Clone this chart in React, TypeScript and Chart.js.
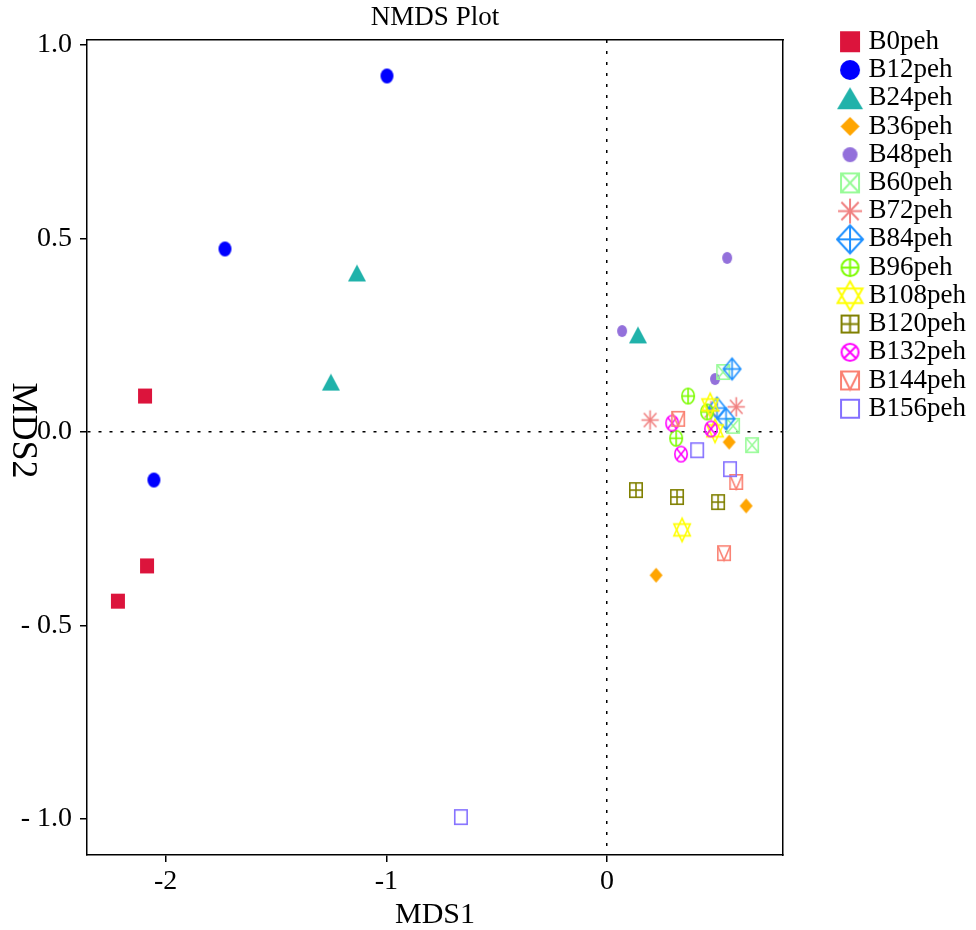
import React, { useEffect, useRef } from 'react';
import { Chart, registerables } from 'chart.js';

Chart.register(...registerables);

// ---------------- data ----------------
const SERIES_NAMES = ['B0peh', 'B12peh', 'B24peh', 'B36peh', 'B48peh', 'B60peh', 'B72peh', 'B84peh', 'B96peh', 'B108peh', 'B120peh', 'B132peh', 'B144peh', 'B156peh'];

const B0peh_MDS1 = [-2.093, -2.084, -2.216];
const B0peh_MDS2 = [0.093, -0.346, -0.437];
const B12peh_MDS1 = [-0.997, -1.731, -2.053];
const B12peh_MDS2 = [0.92, 0.473, -0.124];
const B24peh_MDS1 = [-1.133, -1.251, 0.14];
const B24peh_MDS2 = [0.411, 0.129, 0.251];
const B36peh_MDS1 = [0.222, 0.63, 0.553];
const B36peh_MDS2 = [-0.37, -0.191, -0.026];
const B48peh_MDS1 = [0.544, 0.068, 0.489];
const B48peh_MDS2 = [0.45, 0.261, 0.137];
const B60peh_MDS1 = [0.526, 0.571, 0.657];
const B60peh_MDS2 = [0.155, 0.016, -0.034];
const B72peh_MDS1 = [0.195, 0.585, 0.471];
const B72peh_MDS2 = [0.031, 0.065, 0.055];
const B84peh_MDS1 = [0.566, 0.498, 0.539];
const B84peh_MDS2 = [0.163, 0.062, 0.034];
const B96peh_MDS1 = [0.367, 0.313, 0.453];
const B96peh_MDS2 = [0.093, -0.016, 0.052];
const B108peh_MDS1 = [0.34, 0.467, 0.489];
const B108peh_MDS2 = [-0.253, 0.07, 0.003];
const B120peh_MDS1 = [0.131, 0.317, 0.503];
const B120peh_MDS2 = [-0.15, -0.168, -0.181];
const B132peh_MDS1 = [0.295, 0.335, 0.471];
const B132peh_MDS2 = [0.023, -0.057, 0.008];
const B144peh_MDS1 = [0.322, 0.585, 0.53];
const B144peh_MDS2 = [0.034, -0.129, -0.313];
const B156peh_MDS1 = [-0.662, 0.408, 0.557];
const B156peh_MDS2 = [-0.995, -0.047, -0.096];

const MDS1_VALUES = [B0peh_MDS1, B12peh_MDS1, B24peh_MDS1, B36peh_MDS1, B48peh_MDS1, B60peh_MDS1, B72peh_MDS1, B84peh_MDS1, B96peh_MDS1, B108peh_MDS1, B120peh_MDS1, B132peh_MDS1, B144peh_MDS1, B156peh_MDS1];
const MDS2_VALUES = [B0peh_MDS2, B12peh_MDS2, B24peh_MDS2, B36peh_MDS2, B48peh_MDS2, B60peh_MDS2, B72peh_MDS2, B84peh_MDS2, B96peh_MDS2, B108peh_MDS2, B120peh_MDS2, B132peh_MDS2, B144peh_MDS2, B156peh_MDS2];

const X_TICKS = [-2, -1, 0];
const X_TICK_LABELS = ['-2', '-1', '0'];
const Y_TICKS = [-1, -0.5, 0, 0.5, 1];
const Y_TICK_LABELS = ['- 1.0', '- 0.5', '0.0', '0.5', '1.0'];

const X_MIN = -2.356;
const X_MAX = 0.797;
const Y_MIN = -1.093;
const Y_MAX = 1.013;

const CHART_TITLE = 'NMDS Plot';
const X_AXIS_TITLE = 'MDS1';
const Y_AXIS_TITLE = 'MDS2';

// ---------------- styles ----------------
const MARKER_STYLES = [
  { kind: 'squareFilled', color: '#DC143C', plot: [14, 15], legend: [20, 21] },
  { kind: 'circleFilled', color: '#0000FF', plot: [13, 15], legend: [20, 20] },
  { kind: 'triangleFilled', color: '#20B2AA', plot: [18, 17], legend: [26, 22] },
  { kind: 'diamondFilled', color: '#FFA500', plot: [13, 15], legend: [19, 19] },
  { kind: 'circleFilled', color: '#9370DB', plot: [10, 12], legend: [15, 15] },
  { kind: 'squareX', color: '#98FB98', plot: [14, 16], legend: [20, 21] },
  { kind: 'asterisk', color: '#F08080', plot: [19, 21], legend: [26, 27] },
  { kind: 'diamondPlus', color: '#1E90FF', plot: [19, 23], legend: [28, 30] },
  { kind: 'circlePlus', color: '#7CFC00', plot: [14, 17], legend: [19, 19] },
  { kind: 'hexagram', color: '#FFFF00', plot: [18, 25], legend: [27, 31] },
  { kind: 'squarePlus', color: '#808000', plot: [14, 16], legend: [19, 19] },
  { kind: 'circleX', color: '#FF00FF', plot: [14, 17], legend: [19, 19] },
  { kind: 'squareV', color: '#FA8072', plot: [14, 16], legend: [20, 20] },
  { kind: 'squareOpen', color: '#8470FF', plot: [14, 16], legend: [20, 20] },
];

const SERIF = "'Liberation Serif', 'Times New Roman', serif";
const CANVAS_W = 976;
const CANVAS_H = 930;
const PLOT_LEFT = 87;
const PLOT_RIGHT = 783;
const X_AXIS_HEIGHT = 75;
const LEGEND_BOX_W = 18;
const LEGEND_MARK_SHIFT = 4;

function makeMarker(kind: string, color: string, w: number, h: number, lw: number, shift: number): HTMLCanvasElement {
  const pad = 2;
  const c = document.createElement('canvas');
  c.width = Math.ceil(w + pad * 2 + Math.abs(shift) * 2);
  c.height = Math.ceil(h + pad * 2);
  const g = c.getContext('2d') as CanvasRenderingContext2D;
  const cx = c.width / 2 + shift;
  const cy = c.height / 2;
  const fx = w / 2;
  const fy = h / 2;
  const rx = (w - lw) / 2;
  const ry = (h - lw) / 2;
  g.strokeStyle = color;
  g.fillStyle = color;
  g.lineWidth = lw;
  const line = (x1: number, y1: number, x2: number, y2: number) => {
    g.beginPath();
    g.moveTo(x1, y1);
    g.lineTo(x2, y2);
    g.stroke();
  };
  const rect = () => g.strokeRect(cx - rx, cy - ry, rx * 2, ry * 2);
  const ell = () => {
    g.beginPath();
    g.ellipse(cx, cy, rx, ry, 0, 0, Math.PI * 2);
    g.stroke();
  };
  const plus = (ax: number, ay: number) => {
    line(cx - ax, cy, cx + ax, cy);
    line(cx, cy - ay, cx, cy + ay);
  };
  switch (kind) {
    case 'squareFilled':
      g.fillRect(cx - fx, cy - fy, w, h);
      break;
    case 'circleFilled':
      g.beginPath();
      g.ellipse(cx, cy, fx, fy, 0, 0, Math.PI * 2);
      g.fill();
      break;
    case 'triangleFilled':
      g.beginPath();
      g.moveTo(cx, cy - fy);
      g.lineTo(cx + fx, cy + fy);
      g.lineTo(cx - fx, cy + fy);
      g.closePath();
      g.fill();
      break;
    case 'diamondFilled':
      g.beginPath();
      g.moveTo(cx, cy - fy);
      g.lineTo(cx + fx, cy);
      g.lineTo(cx, cy + fy);
      g.lineTo(cx - fx, cy);
      g.closePath();
      g.fill();
      break;
    case 'squareX':
      rect();
      line(cx - rx, cy - ry, cx + rx, cy + ry);
      line(cx + rx, cy - ry, cx - rx, cy + ry);
      break;
    case 'asterisk':
      plus(rx, ry);
      line(cx - rx * 0.72, cy - ry * 0.72, cx + rx * 0.72, cy + ry * 0.72);
      line(cx + rx * 0.72, cy - ry * 0.72, cx - rx * 0.72, cy + ry * 0.72);
      break;
    case 'diamondPlus':
      g.beginPath();
      g.moveTo(cx, cy - ry);
      g.lineTo(cx + rx, cy);
      g.lineTo(cx, cy + ry);
      g.lineTo(cx - rx, cy);
      g.closePath();
      g.stroke();
      plus(rx, ry);
      break;
    case 'circlePlus':
      ell();
      plus(rx, ry);
      break;
    case 'hexagram':
      g.beginPath();
      g.moveTo(cx, cy - ry);
      g.lineTo(cx + rx, cy + ry * 0.5);
      g.lineTo(cx - rx, cy + ry * 0.5);
      g.closePath();
      g.stroke();
      g.beginPath();
      g.moveTo(cx, cy + ry);
      g.lineTo(cx + rx, cy - ry * 0.5);
      g.lineTo(cx - rx, cy - ry * 0.5);
      g.closePath();
      g.stroke();
      break;
    case 'squarePlus':
      rect();
      plus(rx, ry);
      break;
    case 'circleX':
      ell();
      line(cx - rx * 0.707, cy - ry * 0.707, cx + rx * 0.707, cy + ry * 0.707);
      line(cx + rx * 0.707, cy - ry * 0.707, cx - rx * 0.707, cy + ry * 0.707);
      break;
    case 'squareV':
      rect();
      g.beginPath();
      g.moveTo(cx - rx, cy - ry);
      g.lineTo(cx, cy + ry);
      g.lineTo(cx + rx, cy - ry);
      g.stroke();
      break;
    case 'squareOpen':
    default:
      rect();
      break;
  }
  return c;
}

const zeroLineColor = (c: any) => (c.tick && c.tick.value === 0 ? '#000000' : 'rgba(0,0,0,0)');

const yTitlePlugin = {
  id: 'rotatedYTitle',
  afterDraw(chart: any) {
    const { ctx, chartArea } = chart;
    ctx.save();
    ctx.translate(chartArea.left - 64.5, (chartArea.top + chartArea.bottom) / 2 - 17);
    ctx.rotate(Math.PI / 2);
    ctx.font = `36px ${SERIF}`;
    ctx.fillStyle = '#000000';
    ctx.textAlign = 'center';
    ctx.textBaseline = 'middle';
    ctx.fillText(Y_AXIS_TITLE, 0, 0);
    ctx.restore();
  },
};

export default function App() {
  const ref = useRef<HTMLCanvasElement | null>(null);

  useEffect(() => {
    if (!ref.current) return;
    const plotMarkers = MARKER_STYLES.map((s) => makeMarker(s.kind, s.color, s.plot[0], s.plot[1], 1.6, 0));
    const legendMarkers = MARKER_STYLES.map((s) => makeMarker(s.kind, s.color, s.legend[0], s.legend[1], 2, LEGEND_MARK_SHIFT));

    const datasets = SERIES_NAMES.map((name, i) => ({
      label: name,
      data: MDS1_VALUES[i].map((x, j) => ({ x, y: MDS2_VALUES[i][j] })),
      pointStyle: plotMarkers[i],
      pointRadius: 9,
      pointHoverRadius: 9,
      backgroundColor: MARKER_STYLES[i].color,
      borderColor: MARKER_STYLES[i].color,
      order: -i,
    }));

    const chart = new Chart(ref.current, {
      type: 'scatter',
      data: { datasets },
      plugins: [yTitlePlugin],
      options: {
        animation: false,
        responsive: false,
        devicePixelRatio: 1,
        events: [],
        layout: { padding: 0 },
        font: { family: SERIF },
        color: '#000000',
        plugins: {
          tooltip: { enabled: false },
          title: {
            display: true,
            text: CHART_TITLE,
            fullSize: false,
            color: '#000000',
            font: { family: SERIF, size: 27, weight: 'normal', lineHeight: 1 },
            padding: { top: 4, bottom: 9 },
          },
          legend: {
            display: true,
            position: 'right',
            align: 'start',
            title: { display: true, text: '', font: { size: 20, lineHeight: 1 }, padding: { top: 7, bottom: 0 } },
            labels: {
              usePointStyle: true,
              pointStyleWidth: LEGEND_BOX_W,
              padding: 1.23,
              color: '#000000',
              font: { family: SERIF, size: 27 },
              generateLabels: () =>
                SERIES_NAMES.map((name, i) => ({
                  text: name,
                  pointStyle: legendMarkers[i],
                  datasetIndex: i,
                  fillStyle: MARKER_STYLES[i].color,
                  strokeStyle: MARKER_STYLES[i].color,
                  lineWidth: 0,
                  hidden: false,
                  fontColor: '#000000',
                })),
            },
          },
        },
        scales: {
          x: {
            type: 'linear',
            position: 'bottom',
            min: X_MIN,
            max: X_MAX,
            afterBuildTicks: (s: any) => {
              s.ticks = X_TICKS.map((v) => ({ value: v }));
            },
            afterFit: (s: any) => {
              s.height = X_AXIS_HEIGHT;
            },
            ticks: {
              color: '#000000',
              padding: 3,
              maxRotation: 0,
              font: { family: SERIF, size: 28 },
              callback: (_v: any, i: number) => X_TICK_LABELS[i],
            },
            grid: {
              color: zeroLineColor,
              lineWidth: 1.5,
              drawTicks: true,
              tickLength: 7,
              tickColor: '#000000',
              tickWidth: 1.5,
            },
            border: { display: true, color: '#000000', width: 1.5, dash: [3, 8] },
            title: {
              display: true,
              text: X_AXIS_TITLE,
              color: '#000000',
              font: { family: SERIF, size: 30, lineHeight: 1 },
              padding: { top: 0, bottom: 0 },
            },
          },
          y: {
            type: 'linear',
            position: 'left',
            min: Y_MIN,
            max: Y_MAX,
            afterBuildTicks: (s: any) => {
              s.ticks = Y_TICKS.map((v) => ({ value: v }));
            },
            afterFit: (s: any) => {
              s.width = PLOT_LEFT;
            },
            ticks: {
              color: '#000000',
              padding: 8,
              font: { family: SERIF, size: 28 },
              callback: (_v: any, i: number) => Y_TICK_LABELS[i],
            },
            grid: {
              color: zeroLineColor,
              lineWidth: 1.5,
              drawTicks: true,
              tickLength: 7,
              tickColor: '#000000',
              tickWidth: 1.5,
            },
            border: { display: true, color: '#000000', width: 1.5, dash: [3, 8] },
          },
          xTop: {
            type: 'linear',
            axis: 'x',
            position: 'top',
            min: X_MIN,
            max: X_MAX,
            ticks: { display: false },
            grid: { display: true, drawOnChartArea: false, drawTicks: false },
            border: { display: true, color: '#000000', width: 1.5 },
          },
          yRight: {
            type: 'linear',
            axis: 'y',
            position: 'right',
            min: Y_MIN,
            max: Y_MAX,
            ticks: { display: false },
            grid: { display: true, drawOnChartArea: false, drawTicks: false },
            border: { display: true, color: '#000000', width: 1.5 },
            afterFit: (s: any) => {
              const lg = s.chart.legend;
              const lw = lg && lg.width ? lg.width : 140;
              s.width = Math.max(0, CANVAS_W - PLOT_RIGHT - lw);
            },
          },
        },
      } as any,
    });
    return () => chart.destroy();
  }, []);

  return (
    <div style={{ position: 'absolute', left: 0, top: 0, width: CANVAS_W, height: CANVAS_H, background: '#ffffff' }}>
      <canvas ref={ref} width={CANVAS_W} height={CANVAS_H} style={{ display: 'block' }} />
    </div>
  );
}
